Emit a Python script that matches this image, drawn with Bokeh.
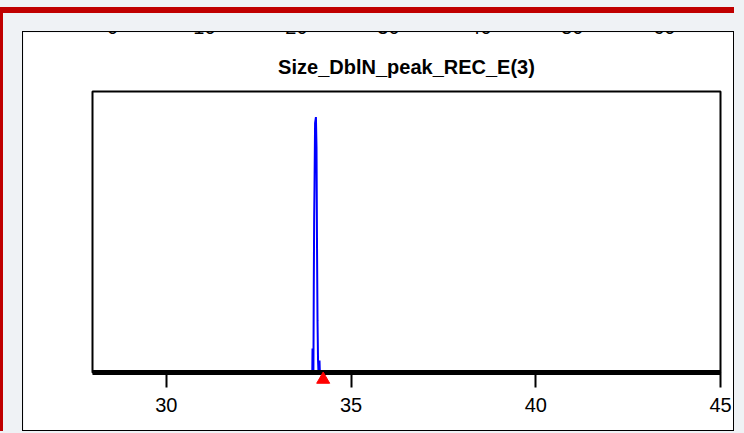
from bokeh.plotting import figure
from bokeh.layouts import column
from bokeh.models import Range1d, FixedTicker
from bokeh.core.properties import value
from bokeh.embed import file_html
from bokeh.resources import INLINE

# ---- data ----
title_text = "Size_DblN_peak_REC_E(3)"
x_ticks = [30, 35, 40, 45]
dens_x = [33.930, 33.950, 33.956, 33.962, 33.980, 33.990, 34.000, 34.010, 34.025,
          34.048, 34.064, 34.078, 34.091, 34.105, 34.118, 34.132, 34.145, 34.155, 34.170]
dens_y = [0.0, 0.0, 0.094, 0.0, 0.0, 0.333, 0.60, 0.733, 0.976,
          1.0, 0.882, 0.49, 0.204, 0.05, 0.0, 0.0, 0.047, 0.0, 0.0]
est_x = [34.245]
# cut-off tick labels of the panel above
above_labels = ["0", "10", "20", "30", "40", "50", "60"]
above_x = [28.54, 31.03, 33.52, 36.01, 38.50, 40.99, 43.48]

# ---- layout constants ----
X0, X1 = 28, 45
Y0, Y1 = 0.0, 1.1
FRAME_H = 281
per_px = (Y1 - Y0) / FRAME_H

p = figure(width=712, height=400, x_range=Range1d(X0, X1), y_range=Range1d(Y0, Y1),
           output_backend="svg", toolbar_location=None,
           min_border_left=69, min_border_right=15, min_border_top=59, min_border_bottom=60,
           background_fill_color="white", border_fill_color="white",
           outline_line_color="black", outline_line_width=2,
           styles={"border": "1px solid black", "overflow": "hidden"})

p.grid.visible = False
p.yaxis.visible = False

p.title.text = title_text
p.title.align = "center"
p.title.text_font = "Liberation Sans"
p.title.text_font_size = "20px"
p.title.text_font_style = "bold"
p.title.text_color = "black"
p.title.standoff = 28

ax = p.xaxis[0]
ax.ticker = FixedTicker(ticks=x_ticks)
ax.axis_line_width = 5
ax.axis_line_color = "black"
ax.major_tick_out = 15
ax.major_tick_in = 0
ax.major_tick_line_width = 2
ax.major_tick_line_color = "black"
ax.minor_tick_out = 0
ax.minor_tick_in = 0
ax.major_label_text_font = "Liberation Sans"
ax.major_label_text_font_size = "20px"
ax.major_label_text_color = "black"
ax.major_label_standoff = 10

p.line(dens_x, dens_y, line_color="#0000ff", line_width=2)

p.scatter(est_x, [Y0 - 7 * per_px] * len(est_x), marker="triangle", size=13,
          fill_color="#ff0000", line_color="#ff0000", level="overlay")

p.text(above_x, [Y1 + 65 * per_px] * len(above_x), text=above_labels,
       text_font=value("Liberation Sans"), text_font_size="20px",
       text_align="center", text_baseline="alphabetic", text_color="black",
       level="overlay")

inner = column(p, styles={"border-top": "6px solid #c00000",
                          "border-left": "3px solid #c00000",
                          "padding-top": "18px", "padding-left": "19px",
                          "background-color": "#eff2f5"})
root = column(inner, styles={"padding-top": "7px", "background-color": "#eff2f5",
                             "width": "744px", "height": "433px"})

open("out.html", "w").write(file_html(root, INLINE))
